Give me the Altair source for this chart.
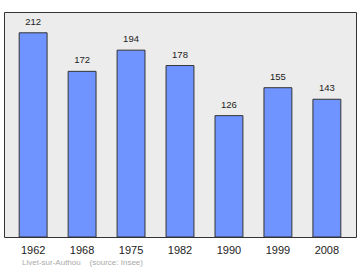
import altair as alt
import pandas as pd

years = ["1962", "1968", "1975", "1982", "1990", "1999", "2008"]
population = [212, 172, 194, 178, 126, 155, 143]
footnote = "Livet-sur-Authou\u00a0\u00a0\u00a0\u00a0(source: Insee)"

df = pd.DataFrame({"year": years, "pop": population})

x = alt.X("year:N", sort=years,
          scale=alt.Scale(paddingInner=0.43, paddingOuter=0.31),
          axis=alt.Axis(title=None, labelAngle=0, ticks=False, domain=False,
                        labelFontSize=11, labelColor="#222", labelPadding=7,
                        labelFont="Liberation Sans"))
y = alt.Y("pop:Q", scale=alt.Scale(domain=[0, 233.6], nice=False, zero=True),
          axis=None)

bars = alt.Chart(df).mark_bar(color="#7094ff", stroke="#333", strokeWidth=1).encode(x=x, y=y)
labels = alt.Chart(df).mark_text(baseline="bottom", dy=-6, fontSize=9.5,
                                 color="#222", font="Liberation Sans").encode(
    x=x, y=y, text="pop:Q")

chart = (bars + labels).properties(
    width=352, height=225,
    padding={"left": 4, "top": 12, "right": 4, "bottom": 33},
    autosize=alt.AutoSizeParams(type="none"),
    title=alt.TitleParams(footnote, orient="bottom", anchor="start", offset=4,
                          fontSize=8, fontWeight="normal", color="#aaa",
                          font="Liberation Sans", dx=18),
).configure(background="white").configure_view(fill="#ececec", stroke="#333", strokeWidth=1)

chart.save("out.html", embed_options={"renderer": "svg", "actions": False})
